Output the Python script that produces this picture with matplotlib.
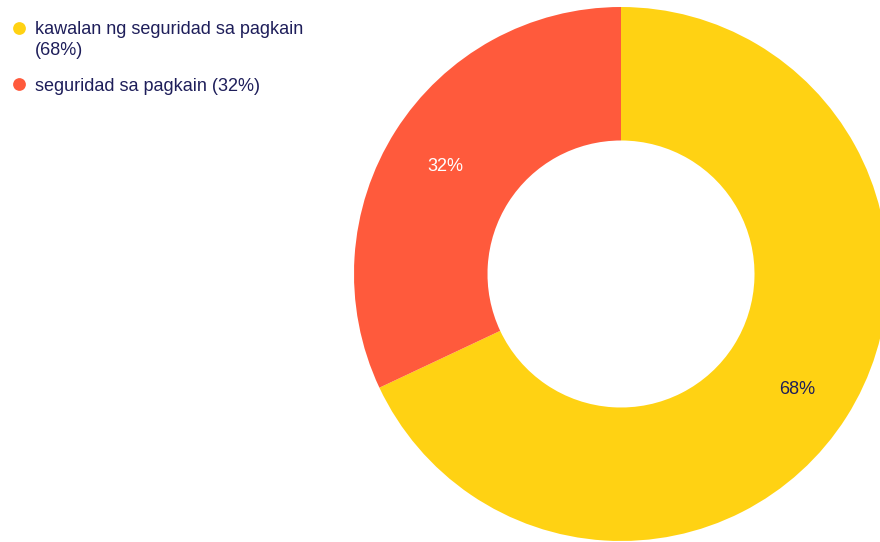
import matplotlib.pyplot as plt
from matplotlib.lines import Line2D

# Data
labels = ['kawalan ng seguridad sa pagkain', 'seguridad sa pagkain']
values = [68, 32]
colors = ['#FFD213', '#FF5A3C']
label_colors = ['#1E1E5A', 'white']
text_color = '#1E1E5A'

plt.rcParams['font.family'] = ['Liberation Sans', 'DejaVu Sans']

W, H = 880, 542
fig = plt.figure(figsize=(W / 100, H / 100), dpi=100)
ax = fig.add_axes([0, 0, 1, 1])

# Donut, drawn in pixel-like data units
wedges, texts, autotexts = ax.pie(
    values, colors=colors, startangle=90, counterclock=False,
    center=(621, H - 274), radius=267,
    wedgeprops=dict(width=133.5, linewidth=0),
    autopct='%d%%', pctdistance=0.78,
    textprops=dict(fontsize=13), frame=False,
)
for t, c in zip(autotexts, label_colors):
    t.set_color(c)
    x, y = t.get_position()
    t.set_position((x, y - 4))

ax.set_xlim(0, W)
ax.set_ylim(0, H)
ax.set_aspect('equal')
ax.axis('off')

# Legend drawn by hand so the marker sits on the first text line
# (baseline_y is the baseline of the last line of each entry)
marker_y = [28, 84]
baseline_y = [55, 91]
legend_text = ['%s\n(%d%%)' % (labels[0], values[0]),
               '%s (%d%%)' % (labels[1], values[1])]
for my, by, txt, c in zip(marker_y, baseline_y, legend_text, colors):
    ax.add_line(Line2D([19], [H - my], marker='o', markersize=9.2,
                       markerfacecolor=c, markeredgewidth=0, linestyle=''))
    ax.text(35, H - by, txt, fontsize=13, color=text_color,
            ha='left', va='baseline', linespacing=1.3)

fig.savefig('out.png', dpi=100)
